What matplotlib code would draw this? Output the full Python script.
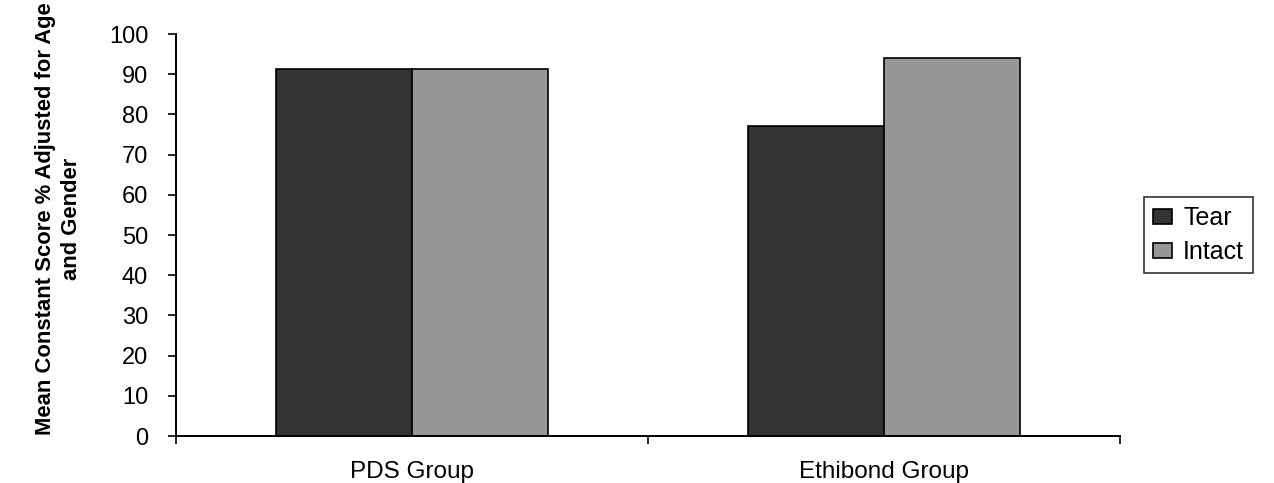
import numpy as np
import matplotlib
matplotlib.use("Agg")
import matplotlib.pyplot as plt

groups = ["PDS Group", "Ethibond Group"]
tear = [91.3, 77.2]
intact = [91.3, 94.1]
yticks = list(range(0, 101, 10))

plt.rcParams['font.family'] = ['Liberation Sans', 'DejaVu Sans']

fig = plt.figure(figsize=(12.74, 4.83), dpi=100)
ax = fig.add_axes([0.1381, 0.0973, 0.879 - 0.1381, 0.9296 - 0.0973])

x = np.arange(len(groups))
w = 0.288
ax.bar(x - w / 2, tear, w, color='#333333', edgecolor='black', linewidth=1.2, label='Tear')
ax.bar(x + w / 2, intact, w, color='#969696', edgecolor='black', linewidth=1.2, label='Intact')

ax.set_xlim(-0.5, len(groups) - 0.5)
ax.set_ylim(0, 100)
ax.set_yticks(yticks)
ax.set_yticklabels([str(t) for t in yticks], fontsize=17)

# category ticks sit on the boundaries, labels in the middle
ax.set_xticks(np.arange(-0.5, len(groups), 1.0))
ax.set_xticklabels([])
ax.set_xticks(x, minor=True)
ax.set_xticklabels(groups, minor=True, fontsize=17.5)
ax.tick_params(axis='x', which='minor', length=0, pad=18)
ax.tick_params(axis='x', which='major', length=6, width=1.2, direction='out')
ax.tick_params(axis='y', length=6, width=1.2, direction='out', pad=14)

for s in ['top', 'right']:
    ax.spines[s].set_visible(False)
for s in ['left', 'bottom']:
    ax.spines[s].set_linewidth(1.4)

ax.set_ylabel("Mean Constant Score % Adjusted for Age\nand Gender", fontsize=15.8,
              fontweight='bold', linespacing=1.3)
ax.yaxis.set_label_coords(-0.10, 0.54)

leg = ax.legend(loc='center left', bbox_to_anchor=(1.026, 0.5), fontsize=18,
                frameon=True, fancybox=False, edgecolor='black', handlelength=0.75,
                handleheight=0.55, handletextpad=0.45, borderpad=0.35, labelspacing=0.4,
                borderaxespad=0)
leg.get_frame().set_linewidth(1.2)

fig.savefig("out.png", dpi=100)
